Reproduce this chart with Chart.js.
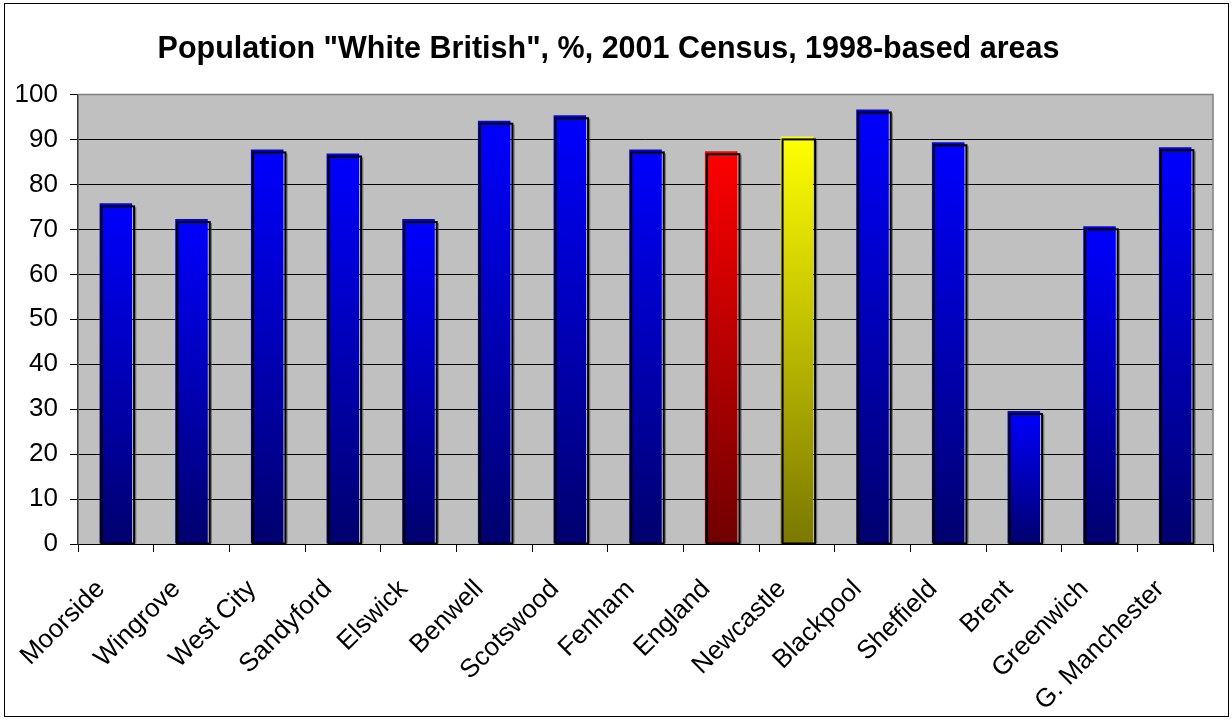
<!DOCTYPE html>
<html>
<head>
<meta charset="utf-8">
<script src="https://cdn.jsdelivr.net/npm/chart.js@4.4.1/dist/chart.umd.min.js"></script>
<style>
  html, body { margin: 0; padding: 0; background: #fff; }
  #wrap { width: 1232px; height: 720px; }
</style>
</head>
<body>
<div id="wrap"><canvas id="chart"></canvas></div>
<script>
const areas = ["Moorside", "Wingrove", "West City", "Sandyford", "Elswick", "Benwell",
  "Scotswood", "Fenham", "England", "Newcastle", "Blackpool", "Sheffield",
  "Brent", "Greenwich", "G. Manchester"];
const whiteBritish = [75.8, 72.3, 87.8, 86.9, 72.3, 94.2, 95.4, 87.8, 87.4, 90.7, 96.7, 89.4, 29.6, 70.7, 88.3];
const yTicks = [0, 10, 20, 30, 40, 50, 60, 70, 80, 90, 100];

// top / bottom colours of each bar's gradient
const topColors = areas.map(a => a === "England" ? "#ff0000" : a === "Newcastle" ? "#ffff00" : "#0000ff");
const bottomColors = areas.map(a => a === "England" ? "#700000" : a === "Newcastle" ? "#7a7800" : "#00006e");

const FONT = "Arial, 'Liberation Sans', sans-serif";

// grey plot area, outer frame
const frame = {
  id: "frame",
  beforeDraw(chart) {
    const { ctx, chartArea: a } = chart;
    ctx.save();
    ctx.fillStyle = "#fff";
    ctx.fillRect(0, 0, chart.width, chart.height);
    ctx.strokeStyle = "#000";
    ctx.lineWidth = 1;
    ctx.strokeRect(4.5, 3.5, chart.width - 8, chart.height - 7);
    ctx.fillStyle = "#c0c0c0";
    ctx.fillRect(a.left, a.top, a.right - a.left, a.bottom - a.top);
    ctx.restore();
  },
  afterDraw(chart) {
    const { ctx, chartArea: a } = chart;
    ctx.save();
    ctx.strokeStyle = "#808080";
    ctx.lineWidth = 1.5;
    ctx.beginPath();
    ctx.moveTo(a.left, a.top);
    ctx.lineTo(a.right, a.top);
    ctx.lineTo(a.right, a.bottom);
    ctx.stroke();
    ctx.restore();
  }
};

// Excel style bar edges: black outline shifted right/down + soft shadow
const barEdges = {
  id: "barEdges",
  afterDatasetsDraw(chart) {
    const { ctx } = chart;
    const bars = chart.getDatasetMeta(0).data;
    ctx.save();
    bars.forEach(bar => {
      const { x, y, base, width } = bar.getProps(["x", "y", "base", "width"], true);
      const l = x - width / 2 + 2, r = x + width / 2 + 2;
      ctx.strokeStyle = "rgba(70,70,70,0.55)";
      ctx.lineWidth = 1.5;
      ctx.beginPath();
      ctx.moveTo(r + 1.5, y + 4);
      ctx.lineTo(r + 1.5, base);
      ctx.stroke();
      ctx.strokeStyle = "#000";
      ctx.lineWidth = 2;
      ctx.strokeRect(l, y + 3, r - l, base - y - 3);
    });
    ctx.restore();
  }
};

new Chart(document.getElementById("chart"), {
  type: "bar",
  data: {
    labels: areas,
    datasets: [{
      data: whiteBritish,
      backgroundColor(c) {
        const { chartArea, scales } = c.chart;
        if (!chartArea || c.parsed === undefined) return topColors[c.dataIndex];
        const yTop = scales.y.getPixelForValue(c.parsed.y);
        const yBot = scales.y.getPixelForValue(0);
        const g = c.chart.ctx.createLinearGradient(0, yTop, 0, yBot);
        g.addColorStop(0, topColors[c.dataIndex]);
        g.addColorStop(1, bottomColors[c.dataIndex]);
        return g;
      },
      borderWidth: 0,
      barPercentage: 0.43,
      categoryPercentage: 1
    }]
  },
  options: {
    responsive: true,
    maintainAspectRatio: false,
    animation: false,
    layout: { padding: { left: 4, right: 19, top: 0, bottom: 0 } },
    plugins: {
      legend: { display: false },
      tooltip: { enabled: false },
      title: {
        display: true,
        text: 'Population "White British", %, 2001 Census, 1998-based areas',
        color: "#000",
        font: { family: FONT, size: 30.5, weight: "bold" },
        padding: { top: 31, bottom: 27 }
      }
    },
    scales: {
      x: {
        grid: { drawOnChartArea: false, offset: true, tickLength: 8, color: "#000" },
        border: { display: true, color: "#000", width: 1 },
        ticks: {
          color: "#000",
          font: { family: FONT, size: 26 },
          minRotation: 45, maxRotation: 45, autoSkip: false,
          padding: 22,
          labelOffset: -15
        },
        afterFit(s) { s.height = 176; }
      },
      y: {
        min: 0, max: 100,
        afterBuildTicks(s) { s.ticks = yTicks.map(v => ({ value: v })); },
        grid: {
          color: c => c.tick && c.tick.value === 100 ? "#808080" : "#000",
          tickColor: "#000",
          tickLength: 8
        },
        border: { display: true, color: "#333", width: 1.5 },
        ticks: {
          color: "#000",
          padding: 12,
          font: { family: FONT, size: 26 }
        },
        afterFit(s) { s.width = 74; }
      }
    }
  },
  plugins: [frame, barEdges]
});
</script>
</body>
</html>
